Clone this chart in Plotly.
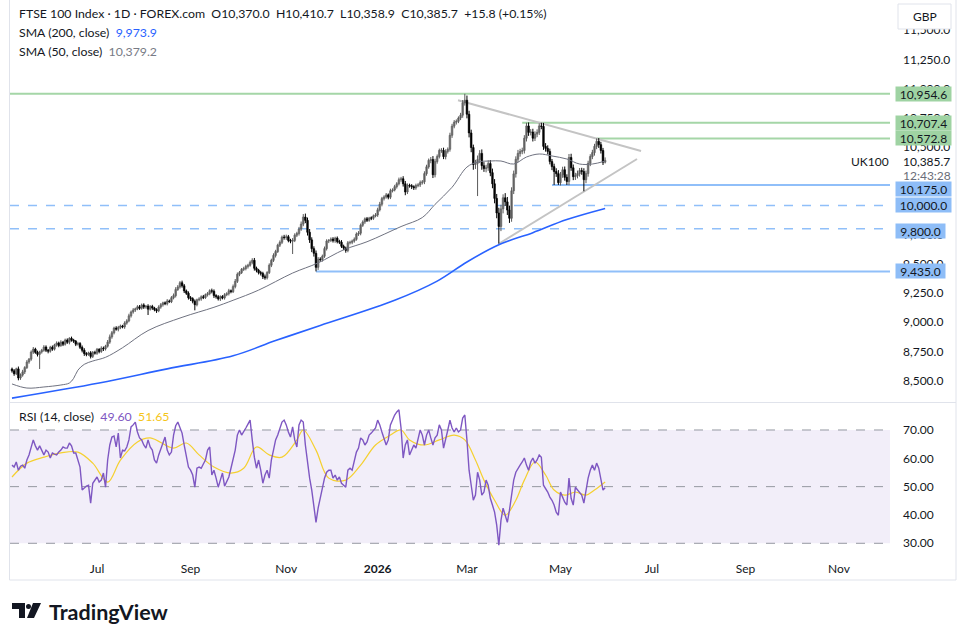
import pandas as pd
import plotly.graph_objects as go

# ---------------- data ----------------
start_date = "2025-05-06"
closes = [8584,8560,8601,8523,8548,8575,8612,8660,8684,8745,
8770,8742,8725,8746,8760,8788,8761,8752,8786,8770,
8806,8822,8800,8830,8812,8848,8829,8862,8846,8838,
8812,8818,8785,8760,8732,8725,8738,8708,8742,8735,
8768,8750,8778,8772,8795,8830,8875,8910,8950,8940,
8955,8968,8960,8993,9012,9055,9088,9105,9115,9132,
9120,9148,9130,9138,9112,9135,9122,9108,9098,9130,
9150,9166,9158,9182,9176,9210,9228,9280,9302,9338,
9312,9268,9248,9210,9202,9180,9150,9192,9200,9218,
9212,9236,9245,9270,9265,9228,9218,9200,9220,9208,
9235,9245,9270,9262,9305,9350,9410,9425,9452,9460,
9478,9488,9512,9530,9462,9445,9425,9418,9390,9380,
9425,9488,9530,9572,9605,9660,9684,9728,9725,9732,
9700,9694,9700,9745,9760,9798,9840,9900,9872,9770,
9705,9630,9590,9470,9540,9535,9565,9630,9695,9700,
9712,9698,9720,9690,9685,9650,9635,9615,9680,9684,
9695,9710,9755,9762,9830,9858,9885,9872,9892,9890,
9910,9918,9962,10010,10058,10072,10090,10070,10125,10132,
10160,10185,10220,10228,10185,10115,10170,10168,10160,10150,
10170,10176,10195,10202,10272,10330,10385,10392,10262,10375,
10418,10470,10470,10418,10462,10480,10600,10678,10712,10720,
10748,10772,10878,10900,10780,10620,10495,10350,10360,10392,
10445,10340,10315,10322,10358,10280,10185,10060,9935,9820,
9970,10065,10030,9960,9890,10125,10270,10395,10445,10462,
10470,10575,10680,10625,10628,10575,10610,10625,10680,10676,
10505,10488,10462,10375,10332,10290,10272,10195,10262,10305,
10240,10205,10410,10322,10246,10255,10272,10298,10290,10220,
10272,10360,10418,10452,10505,10548,10520,10470,10370,10385.7]
first_open = 8600
upper_wick = [12,15,10,20,14,18,12,16,10,14,18,12,15,10,12,16,14,10,12,15,
10,14,12,16,10,12,14,10,15,12,10,14,12,16,18,12,10,15,12,14,
12,10,16,14,12,18,20,15,12,16,14,12,10,15,14,18,12,16,10,14,
15,12,14,10,16,12,14,10,12,15,14,10,12,16,12,14,18,20,16,14,
18,15,12,16,14,12,15,10,14,12,16,10,14,12,18,16,12,14,10,12,
14,12,16,10,18,20,16,14,12,15,14,12,16,18,20,14,12,15,14,18,
12,16,14,18,15,12,16,14,20,18,15,14,20,16,14,18,22,26,30,24,
28,22,20,24,18,16,14,18,15,12,14,16,12,14,16,18,14,12,15,14,
12,16,14,18,15,14,12,16,10,14,12,16,18,20,15,14,16,12,18,14,
16,14,18,16,22,24,18,16,14,12,16,14,18,15,20,18,16,22,30,24,
18,16,20,24,18,16,22,20,18,16,14,20,24,55,40,30,28,25,30,35,
28,34,30,25,28,30,35,40,38,45,35,30,40,42,38,30,28,25,30,22,
24,26,27,30,25,28,24,26,22,27,30,28,26,24,22,25,28,30,24,26,
28,26,30,32,28,24,26,22,24,28,26,22,20,24,22,25,28,24,22,25]
lower_wick = [15,18,12,20,16,14,18,12,15,14,16,12,18,125,14,12,16,18,12,14,
12,15,14,10,16,12,14,18,12,15,16,12,14,18,20,16,12,18,14,12,
14,16,12,18,14,12,15,16,14,12,18,14,12,16,14,12,15,14,16,12,
14,12,16,14,50,12,16,14,18,12,14,16,12,14,10,12,14,16,12,14,
16,18,14,16,20,18,48,14,12,16,14,12,16,14,18,20,16,14,18,12,
14,12,16,14,12,15,14,16,12,14,16,18,12,16,20,18,16,18,20,16,
14,12,16,14,18,12,16,14,18,20,16,18,110,14,16,18,16,18,24,28,
26,30,28,35,22,18,16,14,16,18,14,16,18,15,16,14,18,20,16,14,
16,14,12,16,18,14,16,14,12,16,14,12,16,14,18,16,14,18,16,14,
12,16,14,18,24,28,18,16,20,18,16,14,18,16,20,18,16,24,28,22,
18,16,20,22,24,18,20,22,18,20,16,18,22,24,35,38,40,45,38,280,
30,35,28,32,26,30,38,42,45,148,40,38,35,42,40,30,28,32,25,28,
24,26,28,30,26,28,24,26,22,24,30,28,26,24,30,115,28,20,24,26,
28,30,32,26,30,28,24,26,28,99,30,26,24,22,26,24,28,26,24,11.1]

sma50_idx = [0,7,15,23,27,29,31,34,38,44,52,64,80,95,104,116,132,144,156,167,183,193,199,207,214,219,225,230,236,242,248,254,261,267,273,279]
sma50_val = [8472,8437,8446,8463,8480,8520,8590,8640,8668,8700,8782,8929,9042,9128,9188,9275,9421,9508,9620,9689,9819,9896,10009,10155,10328,10371,10380,10380,10354,10414,10440,10423,10397,10354,10354,10379.2]
sma200_idx = [0,41,73,104,124,145,180,200,214,229,245,261,279]
sma200_val = [8351,8480,8601,8713,8843,8972,9188,9352,9516,9663,9767,9879,9973.9]

rsi = [57.6,56.9,58.7,55.8,57.2,57.6,56.5,59.4,61.2,64.0,
66.5,64.4,62.9,64.4,62.9,61.2,62.9,62.2,60.1,61.9,
61.5,61.2,62.2,62.9,64.0,63.6,63.6,65.4,64.4,61.9,
61.9,59.4,56.9,48.8,49.5,50.2,50.5,44.2,51.2,52.3,
53.4,51.6,52.3,54.8,49.8,59.4,64.7,67.5,67.9,64.0,
68.9,60.1,62.9,62.6,64.0,66.5,71.1,71.8,72.8,69.3,
67.2,66.5,64.7,63.6,66.5,64.0,62.9,59.4,58.3,61.2,
63.6,65.4,67.5,62.9,61.2,62.2,68.2,71.5,72.8,70.7,
68.9,64.7,61.2,56.9,55.8,54.1,49.8,56.5,56.9,56.5,
58.0,59.4,62.9,64.0,54.1,55.8,53.0,49.8,52.3,54.8,
50.2,51.6,53.4,56.5,59.4,62.9,68.2,70.0,68.2,69.3,
70.7,72.1,73.5,66.5,60.4,56.5,59.4,55.8,51.2,54.1,
55.8,53.0,59.4,62.9,66.5,68.2,70.7,72.8,73.5,71.8,
69.3,67.5,71.1,66.5,64.0,71.8,73.5,72.8,64.7,58.3,
53.0,48.8,43.5,37.4,42.4,46.3,49.5,53.0,55.1,55.8,
55.8,53.0,54.1,52.3,53.4,51.2,50.5,49.8,55.8,56.5,
55.8,59.4,62.2,63.6,67.2,66.5,64.7,65.8,68.2,68.9,
70.0,70.7,73.5,71.8,69.3,66.5,64.7,66.5,71.8,73.5,
75.3,76.4,77.1,70.7,60.1,64.7,66.5,61.2,62.9,64.7,
63.6,66.5,70.0,68.2,64.7,68.2,70.0,67.2,64.7,67.2,
68.2,71.8,70.0,63.6,66.5,70.0,73.5,70.7,69.3,70.7,
69.3,70.0,74.2,75.3,66.5,55.8,50.5,45.2,47.0,55.1,
52.3,47.0,48.1,52.3,50.5,45.9,43.5,41.0,36.4,29.3,
38.1,42.4,39.9,37.4,41.7,47.0,52.3,55.1,56.5,57.6,
58.7,60.1,57.6,55.8,58.7,60.1,58.3,59.4,61.2,60.4,
50.5,49.5,48.1,46.3,45.2,43.5,41.0,39.9,48.1,46.3,
44.5,43.5,53.0,45.9,43.5,49.8,48.8,47.7,47.0,44.2,
49.5,53.0,55.8,57.6,55.8,58.3,56.5,53.0,48.8,49.6]
rsi_ma_idx = [0,7,15,23,31,38,45,51,59,65,76,82,88,95,103,109,115,121,127,134,137,143,149,157,164,171,178,183,187,194,201,208,213,218,222,227,232,237,241,246,251,255,260,265,270,274,279]
rsi_ma_val = [53.4,58.3,60.4,61.9,62.2,58.3,51.6,59.4,65.8,67.2,63.6,65.4,61.2,56.9,54.8,56.5,64.0,61.2,60.4,66.5,70.0,62.9,53.0,52.3,57.6,64.7,68.2,70.0,66.5,64.7,66.5,68.2,66.5,59.4,52.3,45.2,39.9,45.2,52.3,58.7,54.1,48.8,47.0,48.1,47.0,48.8,51.65]

level_prices = [10954.6, 10707.4, 10572.8, 10175.0, 10000.0, 9800.0, 9435.0]
level_start = [None, 240, 275, 254, None, None, 143]
level_kind = ["green", "green", "green", "blue", "blue", "blue", "blue"]
level_dash = [False, False, False, False, True, True, False]
tri_upper = [(209.8, 10900), (295.9, 10466)]
tri_lower = [(229.0, 9672), (294.0, 10397)]

price_ticks = [11500, 11250, 11000, 10750, 10500, 9750, 9500, 9250, 9000, 8750, 8500]
rsi_ticks = [70, 60, 50, 40, 30]
tick_months = [(2025, 7, "Jul"), (2025, 9, "Sep"), (2025, 11, "Nov"), (2026, 1, "<b>2026</b>"),
               (2026, 3, "Mar"), (2026, 5, "May"), (2026, 7, "Jul"), (2026, 9, "Sep"), (2026, 11, "Nov")]

# ---------------- derived ----------------
N = len(closes)
xs = list(range(N))
opens = [first_open] + closes[:-1]
highs = [max(o, c) + u for o, c, u in zip(opens, closes, upper_wick)]
lows = [min(o, c) - l for o, c, l in zip(opens, closes, lower_wick)]
dates = pd.bdate_range(start_date, periods=430)
tickvals, ticktext = [], []
for yr, mo, lab in tick_months:
    idx = next(k for k, d in enumerate(dates) if d.year == yr and d.month == mo)
    tickvals.append(idx)
    ticktext.append(lab)

W, H = 971, 643
def px(x): return x / W
def py(y): return 1 - y / H

X0, X1 = -0.94, 413
PMIN, PMAX = 8317.5, 11757.8
RMIN, RMAX = 25.16, 79.53
TXT = "#131722"
FONT = "Lato, 'Noto Sans', sans-serif"
UP_FILL, UP_LINE, DN = "#9a9a9a", "#5a5a5a", "#000000"

fig = go.Figure()
for up in (True, False):
    wx, wy = [], []
    for i in xs:
        if (closes[i] >= opens[i]) == up:
            wx += [i, i, None]
            wy += [lows[i], highs[i], None]
    fig.add_trace(go.Scatter(x=wx, y=wy, mode="lines", line=dict(color=UP_LINE if up else DN, width=1),
                             xaxis="x", yaxis="y", showlegend=False, hoverinfo="skip"))
body_base = [min(o, c) for o, c in zip(opens, closes)]
body_len = [max(abs(c - o), 4) for o, c in zip(opens, closes)]
body_col = [UP_FILL if c >= o else DN for o, c in zip(opens, closes)]
body_line = [UP_LINE if c >= o else DN for o, c in zip(opens, closes)]
fig.add_trace(go.Bar(x=xs, y=body_len, base=body_base, width=0.78,
                     marker=dict(color=body_col, line=dict(color=body_line, width=0.6)),
                     xaxis="x", yaxis="y", showlegend=False, hoverinfo="skip"))
fig.add_trace(go.Scatter(x=sma50_idx, y=sma50_val, mode="lines", line=dict(color="#6f7280", width=1, shape="spline"),
                         xaxis="x", yaxis="y", showlegend=False, hoverinfo="skip"))
fig.add_trace(go.Scatter(x=sma200_idx, y=sma200_val, mode="lines", line=dict(color="#2962ff", width=1.6, shape="spline"),
                         xaxis="x", yaxis="y", showlegend=False, hoverinfo="skip"))
fig.add_trace(go.Scatter(x=rsi_ma_idx, y=rsi_ma_val, mode="lines", line=dict(color="#f5d02f", width=1.2, shape="spline"),
                         xaxis="x2", yaxis="y2", showlegend=False, hoverinfo="skip"))
fig.add_trace(go.Scatter(x=xs, y=rsi, mode="lines", line=dict(color="#7e57c2", width=1.4),
                         xaxis="x2", yaxis="y2", showlegend=False, hoverinfo="skip"))

shapes = []
shapes.append(dict(type="rect", xref="x2", yref="y2", x0=X0, x1=X1, y0=30, y1=70,
                   fillcolor="rgba(126,87,194,0.10)", line=dict(width=0), layer="below"))
for v in (70, 50, 30):
    shapes.append(dict(type="line", xref="x2", yref="y2", x0=X0, x1=X1, y0=v, y1=v,
                       line=dict(color="#9598a1", width=1, dash="dash"), layer="below"))
col = {"green": "#a5d6a7", "blue": "#90bff9"}
for p, s, k, d in zip(level_prices, level_start, level_kind, level_dash):
    shapes.append(dict(type="line", xref="x", yref="y", x0=X0 if s is None else s, x1=X1, y0=p, y1=p,
                       line=dict(color=col[k], width=1.5 if d else 2, dash="dash" if d else "solid"), layer="below"))
for (a, b) in (tri_upper, tri_lower):
    shapes.append(dict(type="line", xref="x", yref="y", x0=a[0], y0=a[1], x1=b[0], y1=b[1],
                       line=dict(color="#c4c4c4", width=2), layer="below"))
frame = "#e0e3eb"
shapes.append(dict(type="line", xref="paper", yref="paper", x0=px(9.5), x1=px(9.5), y0=py(0), y1=py(580), line=dict(color=frame, width=1)))
shapes.append(dict(type="line", xref="paper", yref="paper", x0=px(956), x1=px(956), y0=py(0), y1=py(580), line=dict(color=frame, width=1)))
shapes.append(dict(type="line", xref="paper", yref="paper", x0=px(9.5), x1=px(956), y0=py(402.5), y1=py(402.5), line=dict(color=frame, width=1)))
shapes.append(dict(type="line", xref="paper", yref="paper", x0=px(9.5), x1=px(956), y0=py(580), y1=py(580), line=dict(color=frame, width=1)))
shapes.append(dict(type="rect", xref="paper", yref="paper", x0=px(898), x1=px(951), y0=py(29), y1=py(4),
                   line=dict(color="#e0e3eb", width=1), fillcolor="white"))
shapes.append(dict(type="path", xref="paper", yref="paper",
                   path=f"M {px(12)},{py(603)} L {px(25)},{py(603)} L {px(25)},{py(618)} L {px(19)},{py(618)} L {px(19)},{py(609)} L {px(12)},{py(609)} Z",
                   fillcolor="#131722", line=dict(width=0)))
shapes.append(dict(type="circle", xref="paper", yref="paper", x0=px(26), x1=px(31), y0=py(609), y1=py(604),
                   fillcolor="#131722", line=dict(width=0)))
shapes.append(dict(type="path", xref="paper", yref="paper",
                   path=f"M {px(33)},{py(603)} L {px(41)},{py(603)} L {px(34)},{py(618)} L {px(27)},{py(618)} Z",
                   fillcolor="#131722", line=dict(width=0)))

ann = []
def A(x, y, text, size=12, color=TXT, xanchor="left", **kw):
    d = dict(xref="paper", yref="paper", x=px(x), y=py(y), text=text, showarrow=False, xanchor=xanchor,
             yanchor="middle", font=dict(size=size, color=color, family=FONT))
    d.update(kw)
    ann.append(d)

A(17, 14, "FTSE 100 Index · 1D · FOREX.com&nbsp;&nbsp;O10,370.0&nbsp;&nbsp;H10,410.7&nbsp;&nbsp;L10,358.9&nbsp;&nbsp;C10,385.7&nbsp;&nbsp;+15.8 (+0.15%)", size=12.3)
A(17, 33, "SMA (200, close)&nbsp;&nbsp;<span style='color:#2962ff'>9,973.9</span>", size=12.3)
A(17, 52, "SMA (50, close)&nbsp;&nbsp;<span style='color:#787b86'>10,379.2</span>", size=12.3)
A(17, 416, "RSI (14, close)&nbsp;&nbsp;<span style='color:#7e57c2'>49.60</span>&nbsp;&nbsp;<span style='color:#f5c518'>51.65</span>", size=12.3)
A(924.5, 16, "GBP", size=12, xanchor="center")
A(891, 161, "UK100", size=12, xanchor="right")
A(902, 161, "10,385.7", size=12, bgcolor="white", borderpad=0)
A(902, 175, "12:43:28", size=12, color="#6a6d78", bgcolor="white", borderpad=0)
box = {"green": "#9fd3a3", "blue": "#8ebdf7"}
label_shift = {10175.0: -4.5, 9800.0: -2}
for p, k in zip(level_prices, level_kind):
    t = f"{p:,.1f}"
    ann.append(dict(xref="paper", yref="y", x=px(895), y=p, yshift=label_shift.get(p, 0), text=t, showarrow=False,
                    xanchor="left", yanchor="middle", bgcolor=box[k], borderpad=1, width=53 if len(t) == 8 else 47,
                    height=12, align="center", valign="middle", font=dict(size=12, color=TXT, family=FONT)))
A(47, 612, "<b>TradingView</b>", size=21.5)

fig.update_layout(
    width=W, height=H, margin=dict(l=0, r=0, t=0, b=0),
    paper_bgcolor="white", plot_bgcolor="white", barmode="overlay",
    font=dict(family=FONT, color=TXT, size=12),
    xaxis=dict(domain=[px(10), px(890)], range=[X0, X1], showgrid=False, zeroline=False, showticklabels=False,
               anchor="y", fixedrange=True),
    yaxis=dict(domain=[py(402), 1], range=[PMIN, PMAX], side="right", showgrid=False, zeroline=False,
               tickvals=price_ticks, tickformat=",.1f", ticks="", ticklabelstandoff=12,
               tickfont=dict(size=12, color=TXT), anchor="x"),
    xaxis2=dict(domain=[px(10), px(890)], range=[X0, X1], showgrid=False, zeroline=False, matches="x",
                tickvals=tickvals, ticktext=ticktext, ticks="", tickfont=dict(size=12, color=TXT),
                anchor="y2", ticklabelstandoff=3),
    yaxis2=dict(domain=[py(557), py(403)], range=[RMIN, RMAX], side="right", showgrid=False, zeroline=False,
                tickvals=rsi_ticks, tickformat=".2f", ticks="", ticklabelstandoff=12,
                tickfont=dict(size=12, color=TXT), anchor="x2"),
    shapes=shapes, annotations=ann, showlegend=False,
)
fig.write_html("out.html")
